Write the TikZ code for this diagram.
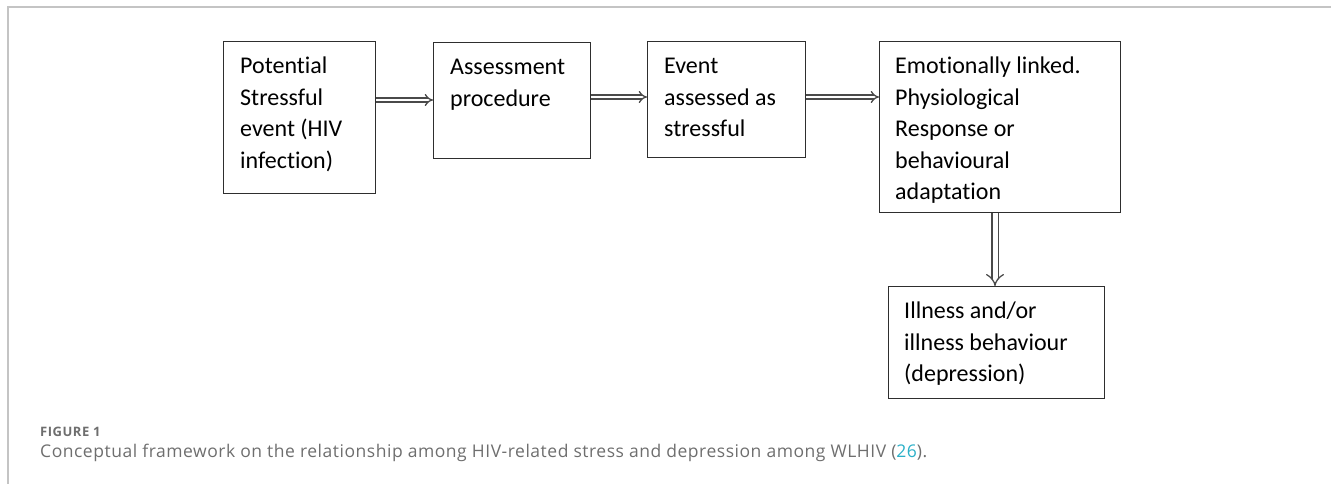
\documentclass[tikz,border=0pt]{standalone}
\usepackage{fontspec}
\setmainfont{Carlito}[Ligatures=NoCommon]
\newfontfamily\capfont{Open Sans}[LetterSpace=3]
\newfontfamily\figfont{Open Sans}[LetterSpace=4]
\usetikzlibrary{arrows.meta}
\definecolor{framegray}{HTML}{C4C4C4}
\definecolor{capgray}{HTML}{6E6E6E}
\definecolor{linkteal}{HTML}{2BB0C8}
\definecolor{boxline}{HTML}{2E2E2E}
\definecolor{arrowgray}{HTML}{4A4A4A}
\tikzset{
  box/.style={draw=boxline, line width=1.2pt, inner sep=0pt, anchor=north west},
  txt/.style={anchor=north west, align=left, inner sep=0pt, font=\fontsize{24}{31.5}\selectfont},
  dblarrow/.style={draw=arrowgray, line width=1.3pt, double=white, double distance=2.8pt, -{Implies}},
  bigarrow/.style={draw=arrowgray, line width=1.3pt, double=white, double distance=5pt, -{Implies[scale=1.3]}},
}
\begin{document}
\begin{tikzpicture}[x=1pt,y=-1pt]
\useasboundingbox (0,0) rectangle (1331,484);
% frame
\draw[framegray, line width=1.5pt] (8,484) -- (8,7) -- (1331,7);
% boxes
\node[box, minimum width=152pt, minimum height=152pt] (b1) at (223,41) {};
\node[box, minimum width=157pt, minimum height=116pt] (b2) at (433,42) {};
\node[box, minimum width=158pt, minimum height=116pt] (b3) at (647,41) {};
\node[box, minimum width=241pt, minimum height=171pt] (b4) at (879,41) {};
\node[box, minimum width=216pt, minimum height=112pt] (b5) at (888,286) {};
% texts
\node[txt] (t1) at ([xshift=17pt,yshift=-10.5pt]b1.north west) {\strut Potential\\Stressful\\event (HIV\\infection)};
\node[txt] (t2) at ([xshift=17pt,yshift=-10.5pt]b2.north west) {\strut Assessment\\procedure};
\node[txt] (t3) at ([xshift=17pt,yshift=-10.5pt]b3.north west) {\strut Event\\assessed as\\stressful};
\node[txt] (t4) at ([xshift=16pt,yshift=-10.5pt]b4.north west) {\strut Emotionally linked.\\Physiological\\Response or\\behavioural\\adaptation};
\node[txt] (t5) at ([xshift=16pt,yshift=-10.5pt]b5.north west) {\strut Illness and/or\\illness behaviour\\(depression)};
% arrows
\draw[dblarrow] (b1.east |- 0,100) -- (b2.west |- 0,100);
\draw[dblarrow] (b2.east |- 0,97) -- (b3.west |- 0,97);
\draw[dblarrow] (b3.east |- 0,97) -- (b4.west |- 0,97);
\draw[bigarrow] (b4.south -| 995,0) -- (b5.north -| 995,0);
% caption
\node[anchor=base west, inner sep=0pt, text=capgray, font=\figfont\bfseries\fontsize{13}{15}\selectfont] (fig) at (40,436) {FIGURE 1};
\node[anchor=base west, inner sep=0pt, text=capgray, font=\capfont\fontsize{17.5}{20}\selectfont] (cap) at (40,457) {Conceptual framework on the relationship among HIV-related stress and depression among WLHIV (\textcolor{linkteal}{26}).};
\end{tikzpicture}
\end{document}
